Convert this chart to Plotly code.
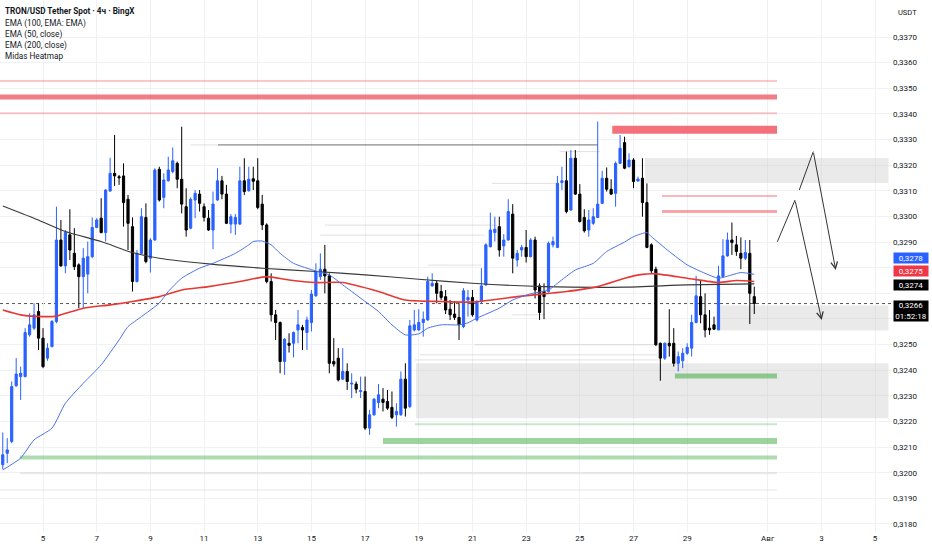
import pandas as pd
import plotly.graph_objects as go

# ---------------- data ----------------
times = pd.date_range("2025-07-03 12:00", periods=169, freq="4h")

opens = [0.32031,0.32076,0.32122,0.32339,0.32375,0.32375,0.32538,0.32564,0.32629,0.32525,
0.32447,0.32492,0.32590,0.32908,0.32807,0.32928,0.32856,0.32811,0.32765,0.32775,
0.32843,0.32957,0.32993,0.32937,0.33099,0.33168,0.33155,0.33158,0.33067,0.32960,
0.32746,0.32856,0.32996,0.32837,0.32908,0.33184,0.33074,0.33139,0.33175,0.33207,
0.33145,0.33038,0.32954,0.33064,0.33087,0.33038,0.32993,0.32947,0.33064,0.33139,
0.33087,0.32970,0.32970,0.32970,0.33139,0.33100,0.33147,0.33139,0.33048,0.32967,
0.32746,0.32616,0.32586,0.32434,0.32505,0.32505,0.32557,0.32567,0.32547,0.32586,
0.32690,0.32765,0.32794,0.32768,0.32434,0.32447,0.32365,0.32395,0.32346,0.32346,
0.32317,0.32317,0.32174,0.32226,0.32274,0.32287,0.32278,0.32255,0.32226,0.32226,
0.32365,0.32258,0.32557,0.32557,0.32586,0.32596,0.32729,0.32739,0.32707,0.32687,
0.32638,0.32619,0.32606,0.32570,0.32674,0.32684,0.32596,0.32668,0.32733,0.32882,
0.32937,0.32960,0.32885,0.32908,0.33009,0.32830,0.32869,0.32879,0.32843,0.32908,
0.32729,0.32707,0.32707,0.32889,0.32879,0.33132,0.33139,0.33025,0.33227,0.33087,
0.32996,0.32947,0.32973,0.32996,0.33051,0.33149,0.33106,0.33090,0.33207,0.33288,
0.33194,0.33220,0.33138,0.33149,0.33054,0.32889,0.32794,0.32505,0.32447,0.32505,
0.32505,0.32427,0.32437,0.32466,0.32486,0.32586,0.32687,0.32616,0.32564,0.32577,
0.32557,0.32765,0.32846,0.32908,0.32889,0.32856,0.32837,0.32856,0.32687]

highs = [0.32157,0.32135,0.32356,0.32447,0.32414,0.32564,0.32622,0.32661,0.32661,0.32564,
0.32505,0.32596,0.33038,0.32986,0.32947,0.33028,0.32954,0.32817,0.32876,0.32902,
0.32996,0.32993,0.33071,0.33106,0.33229,0.33318,0.33162,0.33207,0.33084,0.32996,
0.32869,0.33032,0.33051,0.32915,0.33188,0.33194,0.33168,0.33233,0.33269,0.33214,
0.33350,0.33110,0.33074,0.33103,0.33103,0.33051,0.33025,0.33097,0.33188,0.33158,
0.33123,0.33009,0.33009,0.33194,0.33227,0.33194,0.33194,0.33227,0.33084,0.32973,
0.32778,0.32635,0.32590,0.32525,0.32544,0.32551,0.32635,0.32577,0.32609,0.32713,
0.32817,0.32856,0.32889,0.32778,0.32525,0.32486,0.32486,0.32427,0.32388,0.32356,
0.32375,0.32375,0.32245,0.32291,0.32346,0.32330,0.32323,0.32317,0.32271,0.32395,
0.32427,0.32596,0.32635,0.32638,0.32629,0.32765,0.32778,0.32749,0.32733,0.32713,
0.32674,0.32668,0.32661,0.32720,0.32713,0.32713,0.32674,0.32798,0.32895,0.33015,
0.32999,0.32999,0.32931,0.33067,0.33048,0.32869,0.32889,0.32947,0.32915,0.32921,
0.32739,0.32739,0.32902,0.32921,0.33158,0.33194,0.33253,0.33259,0.33259,0.33126,
0.33028,0.33025,0.33032,0.33370,0.33178,0.33191,0.33145,0.33214,0.33318,0.33311,
0.33246,0.33227,0.33155,0.33227,0.33129,0.32895,0.32804,0.32508,0.32508,0.32638,
0.32564,0.32473,0.32486,0.32505,0.32616,0.32768,0.32752,0.32700,0.32635,0.32609,
0.32807,0.32911,0.32937,0.32976,0.32924,0.32918,0.32908,0.32908,0.32726]

lows = [0.32014,0.32037,0.32115,0.32336,0.32284,0.32372,0.32531,0.32557,0.32479,0.32408,
0.32437,0.32489,0.32583,0.32804,0.32778,0.32830,0.32791,0.32642,0.32642,0.32700,
0.32837,0.32954,0.32934,0.32902,0.33097,0.33119,0.33123,0.32960,0.32869,0.32707,
0.32742,0.32853,0.32817,0.32781,0.32905,0.33058,0.33032,0.33136,0.33168,0.33110,
0.33012,0.32921,0.32950,0.32993,0.33019,0.32980,0.32944,0.32872,0.33061,0.33067,
0.32970,0.32934,0.32928,0.32967,0.33084,0.33097,0.33103,0.33028,0.32947,0.32739,
0.32590,0.32518,0.32388,0.32382,0.32469,0.32450,0.32505,0.32479,0.32479,0.32551,
0.32687,0.32752,0.32700,0.32388,0.32414,0.32356,0.32362,0.32323,0.32291,0.32310,
0.32291,0.32167,0.32148,0.32222,0.32252,0.32239,0.32245,0.32209,0.32180,0.32222,
0.32219,0.32252,0.32551,0.32554,0.32531,0.32593,0.32726,0.32661,0.32674,0.32619,
0.32596,0.32596,0.32518,0.32564,0.32609,0.32609,0.32590,0.32661,0.32729,0.32879,
0.32902,0.32843,0.32843,0.32905,0.32778,0.32804,0.32843,0.32820,0.32840,0.32680,
0.32596,0.32599,0.32703,0.32879,0.32876,0.33103,0.33012,0.33022,0.33084,0.32976,
0.32937,0.32921,0.32967,0.32993,0.33048,0.33097,0.33084,0.33038,0.33204,0.33184,
0.33191,0.33110,0.33136,0.32999,0.32876,0.32778,0.32495,0.32359,0.32440,0.32453,
0.32414,0.32395,0.32408,0.32460,0.32453,0.32583,0.32583,0.32528,0.32538,0.32557,
0.32557,0.32762,0.32843,0.32850,0.32846,0.32794,0.32830,0.32580,0.32619]

closes = [0.32070,0.32089,0.32336,0.32385,0.32388,0.32547,0.32577,0.32616,0.32525,0.32414,
0.32486,0.32590,0.32908,0.32807,0.32937,0.32869,0.32804,0.32765,0.32837,0.32843,
0.32957,0.32986,0.32937,0.33103,0.33168,0.33158,0.33151,0.33054,0.32973,0.32746,
0.32856,0.32999,0.32824,0.32908,0.33181,0.33064,0.33142,0.33181,0.33217,0.33145,
0.33048,0.32947,0.33067,0.33090,0.33051,0.32996,0.32947,0.33048,0.33139,0.33087,
0.32973,0.32999,0.32996,0.33139,0.33097,0.33145,0.33137,0.33035,0.32967,0.32746,
0.32616,0.32586,0.32434,0.32521,0.32497,0.32547,0.32577,0.32557,0.32596,0.32697,
0.32785,0.32794,0.32768,0.32427,0.32424,0.32362,0.32395,0.32356,0.32349,0.32326,
0.32320,0.32174,0.32226,0.32287,0.32304,0.32274,0.32252,0.32216,0.32239,0.32365,
0.32252,0.32573,0.32577,0.32586,0.32599,0.32746,0.32739,0.32700,0.32684,0.32635,
0.32616,0.32606,0.32577,0.32710,0.32684,0.32616,0.32668,0.32729,0.32889,0.32947,
0.32950,0.32869,0.32908,0.33019,0.32837,0.32856,0.32879,0.32843,0.32908,0.32713,
0.32625,0.32687,0.32895,0.32902,0.33129,0.33139,0.33019,0.33227,0.33087,0.32980,
0.32944,0.32986,0.32999,0.33048,0.33149,0.33106,0.33087,0.33207,0.33266,0.33188,
0.33220,0.33136,0.33146,0.33054,0.32879,0.32788,0.32499,0.32447,0.32505,0.32495,
0.32427,0.32453,0.32466,0.32489,0.32586,0.32690,0.32616,0.32557,0.32557,0.32560,
0.32768,0.32846,0.32908,0.32898,0.32863,0.32837,0.32859,0.32700,0.32660]

# EMA readings (candle index -> value)
ema50_idx = [0,4,7,11,14,18,22,26,28,31,35,37,40,44,47,52,55,56,58,60,62,65,70,73,76,80,84,87,90,93,
             95,98,102,104,106,111,114,118,122,124,128,132,135,139,141,144,145,149,153,157,160,163,165,168]
ema50_val = [0.32011,0.32057,0.32128,0.32174,0.32271,0.32349,0.32421,0.32518,0.32570,0.32609,0.32662,
             0.32707,0.32759,0.32798,0.32817,0.32856,0.32889,0.32902,0.32904,0.32889,0.32856,0.32817,
             0.32787,0.32772,0.32733,0.32681,0.32629,0.32577,0.32538,0.32542,0.32564,0.32577,0.32577,
             0.32585,0.32603,0.32642,0.32674,0.32698,0.32713,0.32739,0.32791,0.32817,0.32863,0.32900,
             0.32921,0.32937,0.32921,0.32863,0.32811,0.32778,0.32759,0.32772,0.32781,0.32774]

ema100_idx = [0,4,9,12,18,24,29,35,40,46,53,59,64,70,76,84,90,98,105,115,126,133,139,143,146,153,160,164,168]
ema100_val = [0.32635,0.32616,0.32609,0.32611,0.32642,0.32655,0.32668,0.32687,0.32713,0.32726,0.32746,
              0.32765,0.32752,0.32742,0.32742,0.32707,0.32674,0.32668,0.32666,0.32687,0.32707,0.32726,
              0.32759,0.32774,0.32776,0.32759,0.32742,0.32750,0.32746]

ema200_idx = [0,7,14,22,29,35,46,58,70,81,93,105,121,139,153,168]
ema200_val = [0.33041,0.32993,0.32941,0.32902,0.32859,0.32837,0.32815,0.32798,0.32785,0.32772,
              0.32755,0.32739,0.32726,0.32724,0.32733,0.32737]

# Midas heatmap levels
level_price = [0.33528, 0.33466, 0.33403, 0.33338, 0.33080, 0.33019,
               0.32377, 0.32189, 0.32124, 0.32059, 0.31998, 0.31933]
level_start = ["2025-07-03 06:00", "2025-07-03 06:00", "2025-07-03 06:00", "2025-07-26 05:00",
               "2025-07-28 01:30", "2025-07-28 01:30", "2025-07-28 13:00", "2025-07-18 20:30",
               "2025-07-17 16:00", "2025-07-04 03:20", "2025-07-04 03:20", "2025-07-03 06:00"]
level_end = ["2025-08-01 08:20"] * 12
level_kind = ["pink_thin", "red_thick", "pink_thin", "red_bold", "pink_mid", "pink_mid2",
              "green_bold", "green_thin", "green_bold2", "green_mid", "gray_mid", "gray_thin"]

faint_price = [0.33279, 0.33279, 0.32966, 0.32927, 0.32810, 0.33129, 0.33253, 0.32616,
               0.32499, 0.32460, 0.32440]
faint_start = ["2025-07-10 12:00", "2025-07-11 12:30", "2025-07-15 12:00", "2025-07-15 08:00",
               "2025-07-19 08:00", "2025-07-21 17:30", "2025-07-24 06:00", "2025-07-22 11:00",
               "2025-07-21 02:00", "2025-07-19 01:00", "2025-07-18 20:30"]
faint_end = ["2025-07-11 12:30", "2025-07-25 16:00", "2025-07-21 22:00", "2025-07-21 11:00",
             "2025-07-21 08:00", "2025-07-24 04:30", "2025-07-25 18:00", "2025-07-23 17:00",
             "2025-07-27 21:00", "2025-07-27 21:00", "2025-07-28 00:00"]
faint_kind = ["light", "dark", "light", "light", "light", "light", "light", "light",
              "light", "light", "light"]

zone_top = [0.33228, 0.32652, 0.32427]
zone_bottom = [0.33130, 0.32555, 0.32213]
zone_start = ["2025-07-27 10:15", "2025-07-30 05:20", "2025-07-18 21:30"]
zone_end = ["2025-08-05 12:00"] * 3

# drawn forecast paths (time, price)
path1_t = ["2025-08-01 08:35", "2025-08-02 00:25", "2025-08-03 00:17"]
path1_p = [0.32901, 0.33064, 0.32596]
path2_t = ["2025-08-02 04:15", "2025-08-02 16:46", "2025-08-03 12:49"]
path2_p = [0.33103, 0.33253, 0.32791]

last_price = 0.3266
ema50_last, ema100_last, ema200_last = 0.3278, 0.3275, 0.3274

y_ticks = [round(0.3180 + 0.001 * k, 4) for k in range(20)]
y_hidden = [0.3260, 0.3270, 0.3280]  # covered by the price badges
y_tick_text = ["" if v in y_hidden else "0,%04d" % round(v * 10000) for v in y_ticks]
x_tick_vals = ["2025-07-%02d" % d for d in range(5, 30, 2)] + ["2025-08-01", "2025-08-03", "2025-08-05"]
x_tick_text = [str(d) for d in range(5, 30, 2)] + ["Авг", "3", "5"]

# ---------------- styles ----------------
BLUE = "#2962FF"
FONT = "Roboto"
TXT = "#131722"
level_style = {
    "pink_thin": ("rgba(242,54,69,0.28)", 2),
    "red_thick": ("rgba(240,92,104,0.80)", 5),
    "red_bold": ("rgba(240,88,100,0.85)", 8),
    "pink_mid": ("rgba(242,54,69,0.35)", 2),
    "pink_mid2": ("rgba(242,54,69,0.45)", 3),
    "green_bold": ("rgba(76,175,80,0.60)", 5),
    "green_thin": ("rgba(76,175,80,0.30)", 2),
    "green_bold2": ("rgba(76,175,80,0.55)", 6),
    "green_mid": ("rgba(76,175,80,0.45)", 4),
    "gray_mid": ("rgba(150,150,150,0.18)", 2),
    "gray_thin": ("rgba(150,150,150,0.15)", 1.5),
}
faint_style = {"light": ("rgba(120,120,120,0.22)", 1), "dark": ("rgba(60,60,60,0.75)", 1)}

fig = go.Figure()

shapes = []
for t, b, s, e in zip(zone_top, zone_bottom, zone_start, zone_end):
    shapes.append(dict(type="rect", xref="x", yref="y", x0=s, x1=e, y0=b, y1=t,
                       fillcolor="rgba(200,200,200,0.38)", line=dict(width=0), layer="between"))
for p, s, e, k in zip(level_price, level_start, level_end, level_kind):
    c, w = level_style[k]
    shapes.append(dict(type="line", xref="x", yref="y", x0=s, x1=e, y0=p, y1=p,
                       line=dict(color=c, width=w), layer="between"))
for p, s, e, k in zip(faint_price, faint_start, faint_end, faint_kind):
    c, w = faint_style[k]
    shapes.append(dict(type="line", xref="x", yref="y", x0=s, x1=e, y0=p, y1=p,
                       line=dict(color=c, width=w), layer="between"))
shapes.append(dict(type="line", xref="paper", yref="y", x0=0, x1=1, y0=last_price, y1=last_price,
                   line=dict(color="#555", width=1, dash="dot"), layer="between"))

fig.add_trace(go.Candlestick(
    x=times, open=opens, high=highs, low=lows, close=closes,
    increasing=dict(line=dict(color=BLUE, width=1), fillcolor=BLUE),
    decreasing=dict(line=dict(color="#000000", width=1), fillcolor="#000000"),
    whiskerwidth=0, hoverinfo="skip", showlegend=False))

fig.add_trace(go.Scatter(x=[times[i] for i in ema200_idx], y=ema200_val, mode="lines",
                         line=dict(color="#3a3a3a", width=1.1, shape="spline", smoothing=0.6),
                         hoverinfo="skip", showlegend=False))
fig.add_trace(go.Scatter(x=[times[i] for i in ema100_idx], y=ema100_val, mode="lines",
                         line=dict(color="#E53935", width=1.6, shape="spline", smoothing=0.6),
                         hoverinfo="skip", showlegend=False))
fig.add_trace(go.Scatter(x=[times[i] for i in ema50_idx], y=ema50_val, mode="lines",
                         line=dict(color="#4A72E8", width=1, shape="spline", smoothing=0.6),
                         hoverinfo="skip", showlegend=False))

# forecast drawing: first legs as lines, second legs as arrows
for pt, pp in ((path1_t, path1_p), (path2_t, path2_p)):
    fig.add_trace(go.Scatter(x=pt[:2], y=pp[:2], mode="lines", line=dict(color="#333", width=1),
                             hoverinfo="skip", showlegend=False))

annotations = []
for pt, pp in ((path1_t, path1_p), (path2_t, path2_p)):
    annotations.append(dict(x=pt[2], y=pp[2], ax=pt[1], ay=pp[1], xref="x", yref="y",
                            axref="x", ayref="y", showarrow=True, arrowhead=5, arrowsize=1.3,
                            arrowwidth=1, arrowcolor="#333", text="", standoff=0, startstandoff=0))

legend_lines = [("<b>TRON/USD Tether Spot · 4ч · BingX</b>", 11),
                ("EMA (100, EMA: EMA)", 23), ("EMA (50, close)", 34),
                ("EMA (200, close)", 45), ("Midas Heatmap", 56)]
for txt, py in legend_lines:
    annotations.append(dict(xref="paper", yref="paper", x=0, y=1, xanchor="left", yanchor="middle",
                            xshift=3, yshift=-py, text=txt, showarrow=False,
                            font=dict(family=FONT, size=8.2, color=TXT)))

annotations.append(dict(xref="paper", yref="paper", x=1, y=1, xanchor="left", yanchor="middle",
                        xshift=4, yshift=-12, text="USDT", showarrow=False,
                        font=dict(family=FONT, size=7.5, color=TXT)))

badges = [(ema50_last, BLUE, 14.5, "0,3278"), (ema100_last, "#F23645", 9, "0,3275"),
          (ema200_last, "#000000", -2, "0,3274")]
for val, col, ys, txt in badges:
    annotations.append(dict(xref="paper", yref="y", x=1, y=val, xanchor="left", yanchor="middle",
                            xshift=1, yshift=ys, text=txt, showarrow=False, bgcolor=col,
                            borderpad=0, height=10, width=34, align="center",
                            font=dict(family=FONT, size=8, color="white")))
annotations.append(dict(xref="paper", yref="y", x=1, y=last_price, xanchor="left", yanchor="top",
                        xshift=1, yshift=4, text="0,3266<br>01:52:18", showarrow=False,
                        bgcolor="#000000", borderpad=0, width=34, height=20, align="center",
                        font=dict(family=FONT, size=8, color="white")))

fig.update_layout(
    width=932, height=550,
    margin=dict(l=0, r=40, t=0, b=18, autoexpand=False),
    paper_bgcolor="white", plot_bgcolor="white",
    font=dict(family=FONT, size=8, color=TXT),
    showlegend=False,
    shapes=shapes, annotations=annotations,
    xaxis=dict(type="date", range=["2025-07-03 09:32", "2025-08-05 15:09"],
               tickvals=x_tick_vals, ticktext=x_tick_text, showgrid=True, gridcolor="#f0f1f4",
               gridwidth=1, zeroline=False, showline=False, ticks="", rangeslider=dict(visible=False),
               tickfont=dict(family=FONT, size=8, color=TXT)),
    yaxis=dict(side="right", range=[0.317687, 0.338444], tickvals=y_ticks, ticktext=y_tick_text,
               showgrid=True, gridcolor="#f0f1f4", gridwidth=1, zeroline=False, showline=False,
               ticks="", tickfont=dict(family=FONT, size=8, color=TXT)),
)

fig.write_html("out.html", config={"displayModeBar": False},
               post_script="document.body.style.margin='0';document.body.style.overflow='hidden';")
